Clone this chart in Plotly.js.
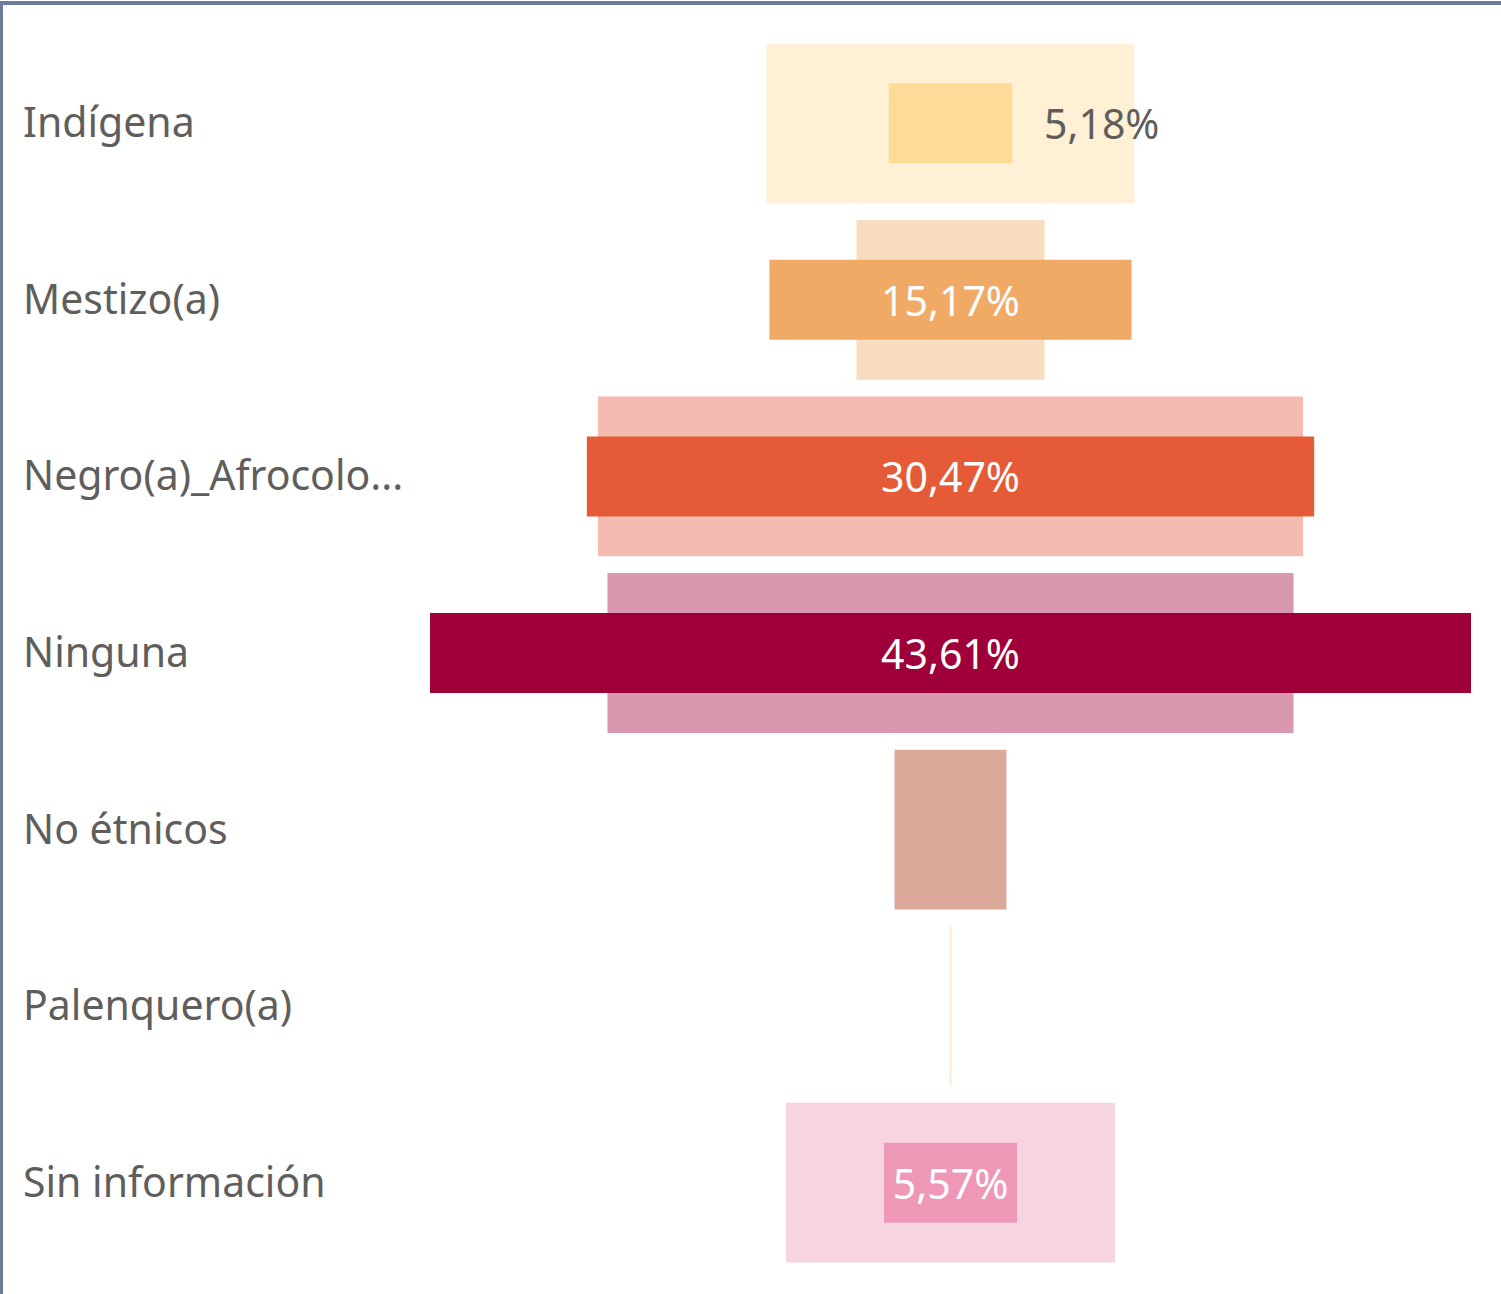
<!DOCTYPE html>
<html>
<head>
<meta charset="utf-8">
<script src="https://cdn.plot.ly/plotly-3.0.1.min.js"></script>
<style>
  body { margin: 0; background: #fff; }
  #wrap { position: relative; width: 1501px; height: 1294px; }
  #chart { width: 1501px; height: 1294px; }
  .edge-top { position: absolute; left: 0; top: 1px; width: 1501px; height: 4px; background: #6b7c9e; }
  .edge-left { position: absolute; left: 0; top: 1px; width: 3px; height: 1293px; background: #6b7c9e; }
</style>
</head>
<body>
<div id="wrap">
  <div id="chart"></div>
  <div class="edge-top"></div>
  <div class="edge-left"></div>
</div>
<script>
const categories = ['Indígena', 'Mestizo(a)', 'Negro(a)_Afrocolo...', 'Ninguna', 'No étnicos', 'Palenquero(a)', 'Sin información'];
const mainValues = [5.18, 15.17, 30.47, 43.61, 0, 0, 5.57];
const compareValues = [15.42, 7.88, 29.54, 28.74, 4.69, 0.06, 13.78];
const mainColors = ['#fedc97', '#f0aa66', '#e65b37', '#a0003a', '#dca89a', '#fbe3d0', '#ee97b7'];
const compareColors = ['#fff0d6', '#f7dcbf', '#f4bcb0', '#d998af', '#dca89a', '#fbe3d0', '#f6d5e0'];
const outsideLabel = [true, false, false, false, false, false, false];

const font = '"Segoe UI", "Noto Sans", "Open Sans", sans-serif';
const maxV = Math.max(...mainValues);

const bg = {
  type: 'bar', orientation: 'h',
  y: categories, x: compareValues, base: compareValues.map(v => -v / 2),
  width: categories.map(() => 0.905),
  marker: { color: compareColors, line: { width: 0 } },
  hoverinfo: 'skip', showlegend: false
};

const fg = {
  type: 'bar', orientation: 'h',
  y: categories, x: mainValues, base: mainValues.map(v => -v / 2),
  width: categories.map(() => 0.453),
  marker: { color: mainColors, line: { width: 0 } },
  texttemplate: mainValues.map((v, i) => v > 0 && !outsideLabel[i] ? '%{x:.2f}%' : ''),
  textposition: 'inside', insidetextanchor: 'middle',
  textfont: { family: font, size: 41, color: '#ffffff' },
  constraintext: 'none', cliponaxis: false,
  hoverinfo: 'skip', showlegend: false
};

// category names sit left-aligned at the panel edge
const annotations = categories.map(c => ({
  xref: 'paper', yref: 'y', x: (21 - 430) / 1041, y: c, yshift: 2,
  text: c, showarrow: false, xanchor: 'left', yanchor: 'middle',
  font: { family: font, size: 41, color: '#605e5c' }
}));

mainValues.forEach((v, i) => {
  if (outsideLabel[i]) {
    annotations.push({
      xref: 'x', yref: 'y', x: v / 2, y: categories[i], xshift: 30,
      text: v.toFixed(2).replace('.', ',') + '%', showarrow: false,
      xanchor: 'left', yanchor: 'middle',
      font: { family: font, size: 41, color: '#605e5c' }
    });
  }
});

Plotly.newPlot('chart', [bg, fg], {
  width: 1501, height: 1294,
  barmode: 'overlay',
  separators: ',.',
  margin: { l: 430, r: 30, t: 35, b: 23 },
  paper_bgcolor: '#ffffff', plot_bgcolor: '#ffffff',
  xaxis: { range: [-maxV / 2, maxV / 2], visible: false, fixedrange: true },
  yaxis: { type: 'category', range: [6.5, -0.5], showticklabels: false, showgrid: false, zeroline: false, showline: false, ticks: '' },
  annotations: annotations
}, { displayModeBar: false, staticPlot: true });
</script>
</body>
</html>
